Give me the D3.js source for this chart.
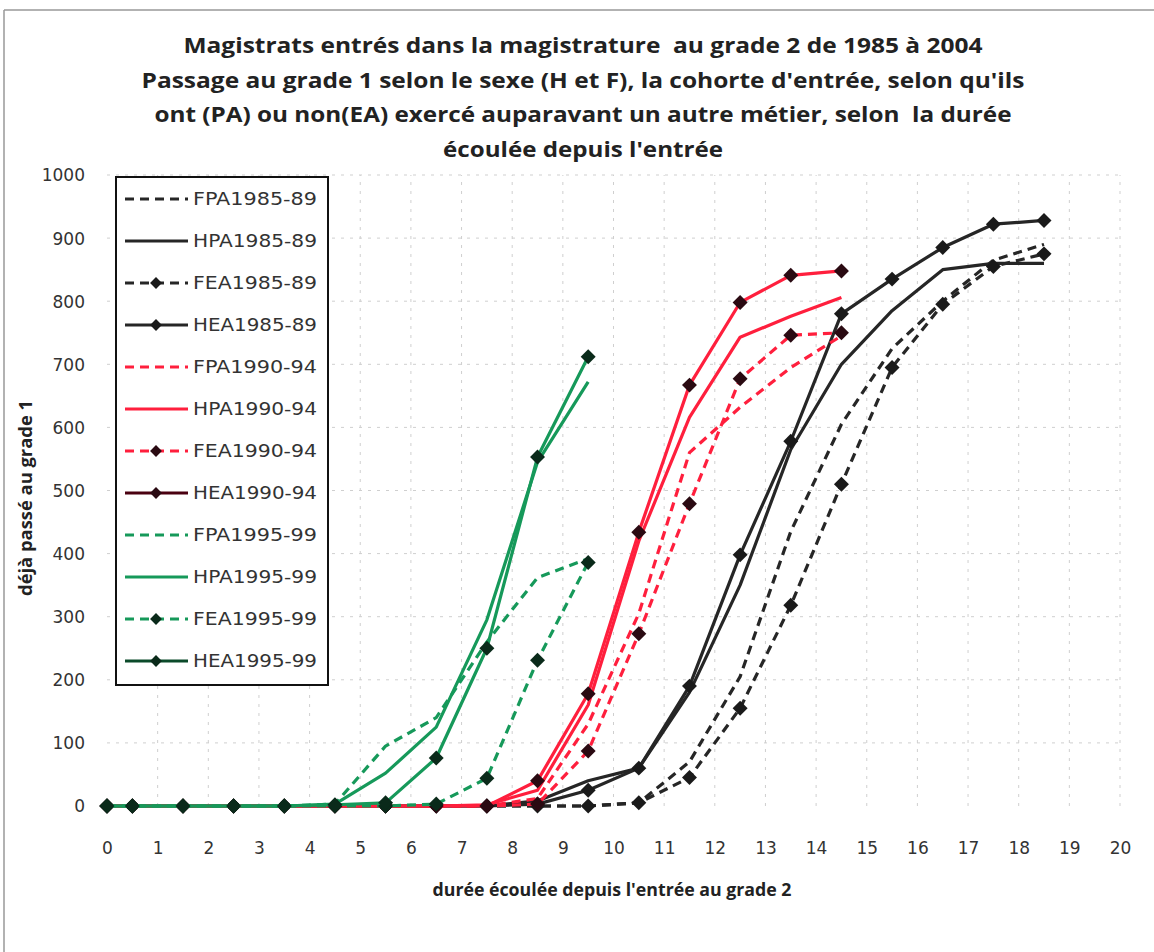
<!DOCTYPE html>
<html><head><meta charset="utf-8">
<script src="https://cdn.jsdelivr.net/npm/d3@7"></script>
<style>
body{margin:0;background:#fff;}
svg{display:block;font-family:"Open Sans",sans-serif;}
</style></head>
<body><svg id="c" width="1154" height="952"></svg>
<script>
const titleLines = [
  "Magistrats entrés dans la magistrature  au grade 2 de 1985 à 2004",
  "Passage au grade 1 selon le sexe (H et F), la cohorte d'entrée, selon qu'ils",
  "ont (PA) ou non(EA) exercé auparavant un autre métier, selon  la durée",
  "écoulée depuis l'entrée"
];
const xLabel = "durée écoulée depuis l'entrée au grade 2";
const yLabel = "déjà passé au grade 1";
const xTicks = d3.range(0, 21);
const yTicks = d3.range(0, 1001, 100);
const xValues = [0,0.5,1.5,2.5,3.5,4.5,5.5,6.5,7.5,8.5,9.5,10.5,11.5,12.5,13.5,14.5,15.5,16.5,17.5,18.5];

const seriesNames = ["FPA1985-89","HPA1985-89","FEA1985-89","HEA1985-89",
  "FPA1990-94","HPA1990-94","FEA1990-94","HEA1990-94",
  "FPA1995-99","HPA1995-99","FEA1995-99","HEA1995-99"];

const FPA1985 = [0,0,0,0,0,0,0,0,0,0,0,5,70,205,435,605,725,800,865,890];
const HPA1985 = [0,0,0,0,0,0,0,0,0,8,40,60,180,350,565,700,785,850,860,860];
const FEA1985 = [0,0,0,0,0,0,0,0,0,0,0,5,45,155,318,510,695,795,855,875];
const HEA1985 = [0,0,0,0,0,0,0,0,0,3,25,60,190,398,578,780,835,885,922,928];
const FPA1990 = [0,0,0,0,0,0,0,0,0,12,130,305,560,632,695,745];
const HPA1990 = [0,0,0,0,0,0,0,0,2,25,160,420,616,743,776,806];
const FEA1990 = [0,0,0,0,0,0,0,0,0,3,87,273,479,677,746,750];
const HEA1990 = [0,0,0,0,0,0,0,0,0,40,178,434,667,798,841,848];
const FPA1995 = [0,0,0,0,0,3,95,140,260,362,392];
const HPA1995 = [0,0,0,0,0,3,52,125,295,545,672];
const FEA1995 = [0,0,0,0,0,0,0,3,44,231,386];
const HEA1995 = [0,0,0,0,0,2,5,76,250,553,712];

const seriesValues = [FPA1985,HPA1985,FEA1985,HEA1985,FPA1990,HPA1990,FEA1990,HEA1990,FPA1995,HPA1995,FEA1995,HEA1995];

const colBlack = "#262626", colRed = "#ff1f3d", colGreen = "#16995a";
const styles = [
  {c:colBlack, dash:true,  m:false, mc:"#1a1a1a", lc:colBlack},
  {c:colBlack, dash:false, m:false, mc:"#1a1a1a", lc:colBlack},
  {c:colBlack, dash:true,  m:true,  mc:"#1a1a1a", lc:colBlack},
  {c:colBlack, dash:false, m:true,  mc:"#1a1a1a", lc:colBlack},
  {c:colRed,   dash:true,  m:false, mc:"#1a1a1a", lc:colRed},
  {c:colRed,   dash:false, m:false, mc:"#1a1a1a", lc:colRed},
  {c:colRed,   dash:true,  m:true,  mc:"#2a0a12", lc:colRed},
  {c:colRed,   dash:false, m:true,  mc:"#2a0a12", lc:"#4a0010"},
  {c:colGreen, dash:true,  m:false, mc:"#1a1a1a", lc:colGreen},
  {c:colGreen, dash:false, m:false, mc:"#1a1a1a", lc:colGreen},
  {c:colGreen, dash:true,  m:true,  mc:"#0a2a1a", lc:colGreen},
  {c:colGreen, dash:false, m:true,  mc:"#0a2a1a", lc:"#0b4a2a"}
];
const titleWidths = [799, 883, 857, 280];
const titleBaselines = [53, 87.5, 122, 157];

const svg = d3.select("#c");
const x = d3.scaleLinear().domain([0,20]).range([107,1120]);
const y = d3.scaleLinear().domain([0,1000]).range([806,175]);

// outer frame
svg.append("line").attr("x1",4).attr("x2",1154).attr("y1",10).attr("y2",10).attr("stroke","#999").attr("stroke-width",1.5);
svg.append("line").attr("x1",4).attr("x2",4).attr("y1",10).attr("y2",952).attr("stroke","#999").attr("stroke-width",1.5);

// title
svg.append("g").selectAll("text").data(titleLines).join("text")
  .attr("x",583).attr("y",(d,i)=>titleBaselines[i]).attr("text-anchor","middle")
  .attr("font-size",22).attr("font-weight","bold").attr("fill","#222")
  .attr("textLength",(d,i)=>titleWidths[i]).attr("lengthAdjust","spacingAndGlyphs")
  .style("white-space","pre").text(d=>d);

// grid
const grid = svg.append("g").attr("stroke","#cfcfcf").attr("stroke-width",1).attr("stroke-dasharray","3,6");
grid.selectAll(".gy").data(yTicks.slice(1)).join("line")
  .attr("x1",x(0)).attr("x2",x(20)).attr("y1",d=>y(d)).attr("y2",d=>y(d));
grid.selectAll(".gx").data(xTicks.slice(1)).join("line")
  .attr("x1",d=>x(d)).attr("x2",d=>x(d)).attr("y1",y(0)).attr("y2",y(1000));

// axes
const tickFont = "DejaVu Sans, sans-serif";
const ax = svg.append("g").attr("transform",`translate(0,${y(0)+39})`)
  .call(d3.axisBottom(x).tickValues(xTicks).tickSize(0).tickFormat(d3.format("d")));
ax.select(".domain").remove();
ax.selectAll("text").attr("font-size",17).attr("fill","#333").attr("font-family",tickFont).attr("dy","0.35em");
const ay = svg.append("g").attr("transform",`translate(${x(0)-19},0)`)
  .call(d3.axisLeft(y).tickValues(yTicks).tickSize(0).tickFormat(d3.format("d")));
ay.select(".domain").remove();
ay.selectAll("text").attr("font-size",17).attr("fill","#333").attr("font-family",tickFont).attr("dy","0.35em");

svg.append("text").attr("x",612).attr("y",896).attr("text-anchor","middle")
  .attr("font-size",17).attr("font-weight","bold").attr("fill","#222")
  .attr("textLength",359).attr("lengthAdjust","spacingAndGlyphs").text(xLabel);
svg.append("text").attr("transform","translate(32,498) rotate(-90)").attr("text-anchor","middle")
  .attr("font-size",17).attr("font-weight","bold").attr("fill","#222")
  .attr("textLength",196).attr("lengthAdjust","spacingAndGlyphs").text(yLabel);

// series
const line = d3.line().x((d,i)=>x(xValues[i])).y(d=>y(d));
const diamond = d3.symbol().type(d3.symbolSquare).size(112);
const plot = svg.append("g");
seriesValues.forEach((vals,k)=>{
  const s = styles[k];
  const g = plot.append("g");
  g.append("path").attr("d",line(vals)).attr("fill","none").attr("stroke",s.c)
    .attr("stroke-width",3.2).attr("stroke-dasharray",s.dash?"9,6":null).attr("stroke-linejoin","round");
  if(s.m){
    g.selectAll("path.mk").data(vals).join("path").attr("class","mk")
      .attr("transform",(d,i)=>`translate(${x(xValues[i])},${y(d)}) rotate(45)`)
      .attr("d",diamond).attr("fill",s.mc);
  }
});

// legend
const lg = svg.append("g");
lg.append("rect").attr("x",116).attr("y",177).attr("width",212).attr("height",508)
  .attr("fill","#fff").attr("stroke","#111").attr("stroke-width",2);
seriesNames.forEach((name,k)=>{
  const s = styles[k];
  const ly = 199 + k*42;
  lg.append("line").attr("x1",125).attr("x2",188).attr("y1",ly).attr("y2",ly)
    .attr("stroke",s.lc).attr("stroke-width",3.2).attr("stroke-dasharray",s.dash?"9,6":null);
  if(s.m){
    lg.append("path").attr("transform",`translate(156,${ly}) rotate(45)`)
      .attr("d",d3.symbol().type(d3.symbolSquare).size(70)).attr("fill",s.mc);
  }
  lg.append("text").attr("x",193).attr("y",ly).attr("dy","0.35em").attr("font-size",17)
    .attr("font-family",tickFont).attr("fill","#333")
    .attr("textLength",124).attr("lengthAdjust","spacingAndGlyphs").text(name);
});
</script></body></html>
